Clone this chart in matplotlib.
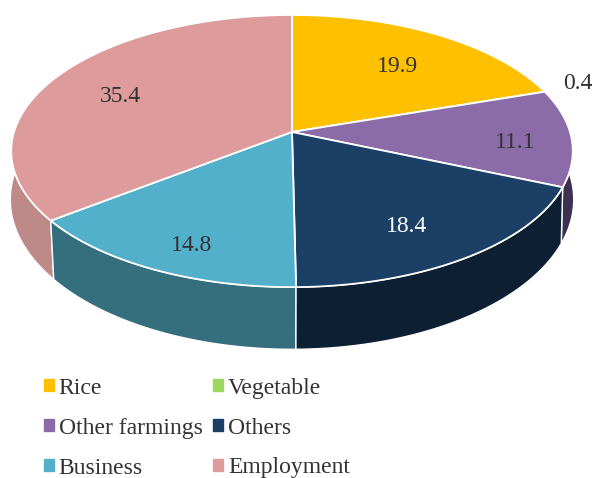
import numpy as np
import matplotlib
matplotlib.use("Agg")
import matplotlib.pyplot as plt
from matplotlib.patches import Patch

plt.rcParams["font.family"] = ["Liberation Serif", "DejaVu Serif"]

# data
categories = ["Rice", "Vegetable", "Other farmings", "Others", "Business", "Employment"]
values = [19.9, 0.4, 11.1, 18.4, 14.8, 35.4]
top_colors = ["#FFC000", "#9DD85E", "#8B6CA8", "#1C3F66", "#53B0CB", "#DD9C9B"]
side_colors = ["#A67D00", "#668C3D", "#3E3050", "#0C1F33", "#356E7D", "#BE8A87"]

# where each number sits, in pixels of the picture
label_pos = [(397, 66), (578, 83), (515, 143), (407, 226), (192, 245), (120, 96)]
label_colors = ["#333333", "#333333", "#333333", "#FFFFFF", "#333333", "#333333"]

CX, CY = 292, 132


def project(angle, bottom=False):
    # perspective view of the pie, angle in degrees clockwise from the top
    u = np.sin(np.radians(angle))
    v = np.cos(np.radians(angle))
    if bottom:
        w = 1 + 0.11 * v
        return CX + 280 * u / w, CY + 51 - 148 * v / w
    w = 1 + 0.14 * v
    return CX + 278 * u / w, CY - 133.4 * v / w


fig = plt.figure(figsize=(5.96, 4.78), dpi=100)
ax = fig.add_axes([0, 0, 1, 1])
ax.set_xlim(0, 596)
ax.set_ylim(478, 0)
ax.axis("off")

edges = np.cumsum([0] + values) * 3.6

# outer walls first, the ones at the back before the ones at the front
for i in [0, 1, 2, 5, 4, 3]:
    a = np.linspace(edges[i], edges[i + 1], 80)
    x1, y1 = project(a)
    x2, y2 = project(a[::-1], bottom=True)
    ax.fill(np.r_[x1, x2], np.r_[y1, y2], color=side_colors[i], ec="white", lw=1.0, zorder=2)

# top faces, the vegetable sliver ends up hidden under the next slice like in the original
for i in range(len(values)):
    start = edges[1] if categories[i] == "Other farmings" else edges[i]
    a = np.linspace(start, edges[i + 1], 80)
    x1, y1 = project(a)
    ax.fill(np.r_[CX, x1], np.r_[CY, y1], fc=top_colors[i], ec="white", lw=1.3, zorder=3)

for val, (lx, ly), col in zip(values, label_pos, label_colors):
    ax.text(lx, ly, "%.1f" % val, color=col, fontsize=17, ha="center", va="center", zorder=4)

# matplotlib fills legend columns first, so reorder to read row by row
order = [0, 2, 4, 1, 3, 5]
handles = [Patch(color=top_colors[i], label=categories[i]) for i in order]
ax.legend(
    handles=handles,
    ncol=2,
    frameon=False,
    fontsize=17,
    labelcolor="#333333",
    handlelength=0.42,
    handleheight=0.42,
    handletextpad=0.2,
    columnspacing=0.46,
    labelspacing=0.8,
    borderpad=0,
    borderaxespad=0,
    loc="lower left",
    bbox_to_anchor=(44 / 596, 1 - 478.5 / 478),
)

fig.savefig("out.png", dpi=100)
